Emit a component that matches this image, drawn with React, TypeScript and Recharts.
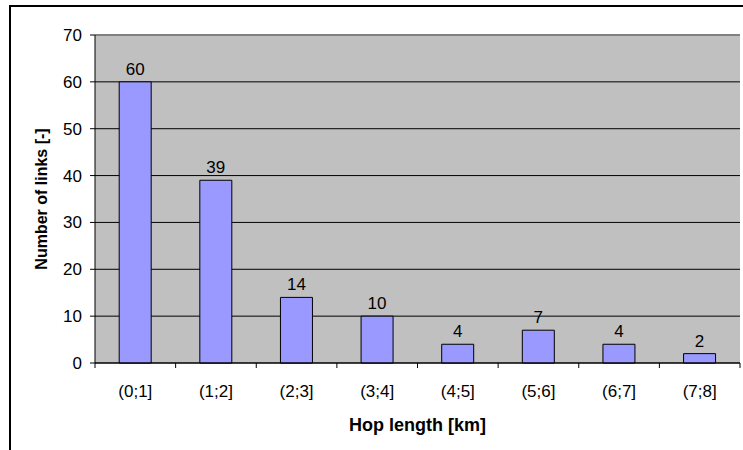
import React from 'react';
import {
  BarChart,
  Bar,
  XAxis,
  YAxis,
  CartesianGrid,
  LabelList,
  Label,
  ReferenceLine,
} from 'recharts';

const hopRanges = ['(0;1]', '(1;2]', '(2;3]', '(3;4]', '(4;5]', '(5;6]', '(6;7]', '(7;8]'];
const linkCounts = [60, 39, 14, 10, 4, 7, 4, 2];
const yTicks = [0, 10, 20, 30, 40, 50, 60, 70];

const data = hopRanges.map((name, i) => ({ name, links: linkCounts[i] }));

const FONT = 'Arial, "Liberation Sans", sans-serif';

// tick marks sit on the category boundaries, labels in the middle
function HopTick(props: any) {
  const { x, y, payload, index } = props;
  const half = payload && payload.offset ? payload.offset : 40.3;
  return (
    <g>
      {index === 0 && <line x1={x - half} y1={y} x2={x - half} y2={y + 5} stroke="#000" />}
      <line x1={x + half} y1={y} x2={x + half} y2={y + 5} stroke="#000" />
      <text x={x} y={y + 34} textAnchor="middle" fontSize={17} fontFamily={FONT} fill="#000">
        {payload.value}
      </text>
    </g>
  );
}

export default function App() {
  return (
    <div style={{ position: 'absolute', left: 0, top: 0, width: 743, height: 450, overflow: 'hidden', background: '#fff' }}>
      <div
        style={{
          position: 'absolute',
          left: 9,
          top: 5,
          width: 800,
          height: 500,
          borderLeft: '2px solid #000',
          borderTop: '2px solid #000',
        }}
      />
      <BarChart
        width={743}
        height={450}
        data={data}
        margin={{ top: 35, right: 3, left: 0, bottom: 0 }}
        barCategoryGap="30%"
        style={{ position: 'absolute', left: 0, top: 0 }}
      >
        <CartesianGrid vertical={false} fill="#C0C0C0" fillOpacity={1} stroke="#000" strokeDasharray="" />
        <ReferenceLine y={70} stroke="#808080" strokeWidth={2} />
        <XAxis
          dataKey="name"
          height={87}
          stroke="#000"
          tickLine={false}
          tickSize={0}
          tickMargin={0}
          tick={<HopTick />}
          interval={0}
        >
          <Label
            value="Hop length [km]"
            position="insideTop"
            offset={55}
            style={{ fontSize: 18, fontWeight: 'bold', fontFamily: FONT, fill: '#000' }}
          />
        </XAxis>
        <YAxis
          width={95}
          domain={[0, 70]}
          ticks={yTicks}
          stroke="#000"
          tickSize={5}
          tickMargin={8}
          tick={{ fontSize: 17, fontFamily: FONT, fill: '#000' }}
        >
          <Label
            value="Number of links [-]"
            angle={-90}
            position="center"
            dx={-6}
            style={{ fontSize: 16, fontWeight: 'bold', fontFamily: FONT, fill: '#000', textAnchor: 'middle' }}
          />
        </YAxis>
        <YAxis
          yAxisId="edge"
          orientation="right"
          width={0}
          domain={[0, 70]}
          stroke="#808080"
          strokeWidth={2}
          tick={false}
          tickLine={false}
        />
        <Bar dataKey="links" fill="#9999FF" stroke="#000" strokeWidth={1} isAnimationActive={false}>
          <LabelList dataKey="links" position="top" offset={7} fontSize={17} fontFamily={FONT} fill="#000" />
        </Bar>
      </BarChart>
    </div>
  );
}
